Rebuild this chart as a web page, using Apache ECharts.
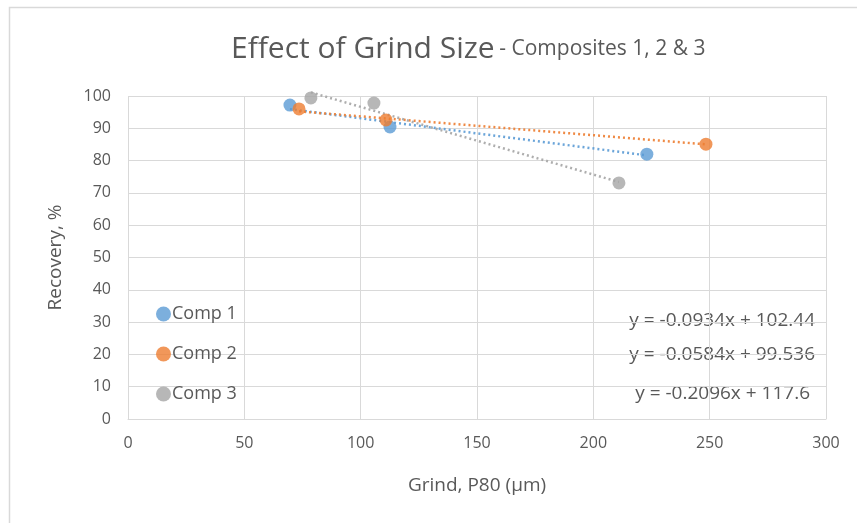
<!DOCTYPE html>
<html>
<head>
<meta charset="utf-8">
<script src="https://cdn.jsdelivr.net/npm/echarts@6/dist/echarts.min.js"></script>
<style>
  html, body { margin: 0; padding: 0; background: #fff; }
  #main { width: 857px; height: 523px; }
</style>
</head>
<body>
<div id="main"></div>
<script>
var seriesNames = ['Comp 1', 'Comp 2', 'Comp 3'];
var colors = ['#5b9bd5', '#ed7d31', '#a5a5a5'];

// grind P80 (um), recovery (%)
var comp1 = [[69.6, 97.2], [112.6, 90.4], [223, 82.0]];
var comp2 = [[73.5, 96.0], [110.9, 92.6], [248.4, 85.1]];
var comp3 = [[78.6, 99.4], [105.7, 97.8], [211, 73.1]];

// linear trendlines from the chart
var slopes = [-0.0934, -0.0584, -0.2096];
var intercepts = [102.44, 99.536, 117.6];
var equations = ['y = -0.0934x + 102.44', 'y = -0.0584x + 99.536', 'y = -0.2096x + 117.6'];

var myChart = echarts.init(document.getElementById('main'));
var font = '"Open Sans", "Noto Sans", sans-serif';
var allData = [comp1, comp2, comp3];

var series = [];
allData.forEach(function (d, i) {
    var xs = d.map(function (p) { return p[0]; });
    var x0 = Math.min.apply(null, xs), x1 = Math.max.apply(null, xs);
    // trendline
    series.push({
        name: seriesNames[i] + ' trend',
        type: 'line',
        data: [[x0, slopes[i] * x0 + intercepts[i]], [x1, slopes[i] * x1 + intercepts[i]]],
        showSymbol: false,
        symbol: 'none',
        clip: false,
        silent: true,
        lineStyle: { color: colors[i], type: [2, 3], width: 2.5, opacity: 0.9 },
        z: 2
    });
    series.push({
        name: seriesNames[i],
        type: 'scatter',
        data: d,
        symbolSize: 13,
        itemStyle: { color: colors[i] },
        z: 3
    });
});

var option = {
    backgroundColor: '#fff',
    animation: false,
    textStyle: { fontFamily: font },
    title: {
        text: '{a|Effect of Grind Size} {b|- Composites 1, 2 & 3}',
        left: 226,
        top: 29,
        textStyle: {
            fontWeight: 'normal',
            rich: {
                a: { fontSize: 30, color: '#595959', fontFamily: font, fontWeight: 'normal' },
                b: { fontSize: 21, color: '#595959', fontFamily: font, fontWeight: 'normal' }
            }
        }
    },
    legend: {
        orient: 'vertical',
        left: 151,
        top: 300,
        itemGap: 22,
        itemWidth: 15,
        itemHeight: 15,
        icon: 'circle',
        textStyle: { fontSize: 18, color: '#595959', fontFamily: font, padding: [0, 0, 0, -4] },
        data: seriesNames
    },
    grid: { left: 128, right: 31, top: 96, bottom: 104, containLabel: false },
    xAxis: {
        type: 'value',
        min: 0, max: 300, interval: 50,
        name: 'Grind, P80 (µm)',
        nameLocation: 'middle',
        nameGap: 57,
        nameTextStyle: { fontSize: 19, color: '#595959', fontFamily: font },
        axisLine: { show: true, lineStyle: { color: '#d9d9d9' } },
        axisTick: { show: false },
        axisLabel: { fontSize: 16, color: '#595959', margin: 16, fontFamily: font },
        splitLine: { show: true, lineStyle: { color: '#d9d9d9' } }
    },
    yAxis: {
        type: 'value',
        min: 0, max: 100, interval: 10,
        name: 'Recovery, %',
        nameLocation: 'middle',
        nameGap: 63,
        nameTextStyle: { fontSize: 19, color: '#595959', fontFamily: font },
        axisLine: { show: false },
        axisTick: { show: false },
        axisLabel: { fontSize: 16, color: '#595959', margin: 17, fontFamily: font },
        splitLine: { show: true, lineStyle: { color: '#d9d9d9' } }
    },
    graphic: [
        { type: 'rect', left: 7, top: 5, shape: { width: 880, height: 560 }, style: { fill: 'none', stroke: '#d9d9d9', lineWidth: 1.5 }, silent: true, z: -10 },
        { type: 'text', right: 42, top: 311, style: { text: equations[0], fill: '#595959', font: '19px ' + font } },
        { type: 'text', right: 42, top: 345, style: { text: equations[1], fill: '#595959', font: '19px ' + font } },
        { type: 'text', right: 47, top: 384, style: { text: equations[2], fill: '#595959', font: '19px ' + font } }
    ],
    series: series
};

myChart.setOption(option);
</script>
</body>
</html>
